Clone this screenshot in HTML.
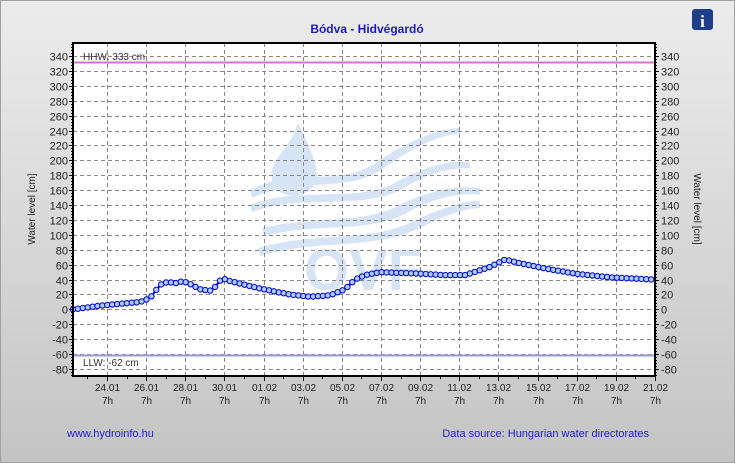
<!DOCTYPE html>
<html><head><meta charset="utf-8"><style>
html,body{margin:0;padding:0;}
body{width:735px;height:463px;overflow:hidden;font-family:"Liberation Sans",Arial,sans-serif;}
</style></head><body>
<svg id="s" width="735" height="463" xmlns="http://www.w3.org/2000/svg" font-family="Liberation Sans, Arial, sans-serif">
<defs><linearGradient id="bg" x1="0" y1="0" x2="0" y2="1"><stop offset="0" stop-color="#ececec"/><stop offset="1" stop-color="#c4c4c4"/></linearGradient></defs>
<rect x="0.5" y="0.5" width="734" height="462" fill="url(#bg)" stroke="#a0a0a0"/>
<rect x="73" y="43" width="582" height="333" fill="#fff"/>
<g id="wm" fill="#d6e4f5" stroke="none">
<path d="M298 123 C290 150 268 160 272 180 C276 198 300 200 312 188 C322 176 316 160 298 123Z"/>
<path d="M250 190 C300 165 340 190 380 160 C410 140 440 128 460 128 L460 134 C440 134 412 148 384 168 C345 195 300 175 252 198Z"/>
<path d="M250 205 C300 185 360 205 400 180 C430 165 450 160 470 162 L470 168 C450 168 430 172 404 188 C362 212 300 193 252 212Z"/>
<path d="M262 228 C320 215 360 225 400 205 C430 190 460 185 480 188 L480 195 C460 192 432 198 405 214 C364 234 320 222 264 236Z"/>
<path d="M258 248 C320 230 370 245 420 218 C450 205 470 200 480 201 L480 208 C470 208 452 212 424 226 C372 252 320 238 260 256Z"/>
<text x="304" y="290" font-size="58" font-weight="bold" fill="#d6e4f5">OVF</text>
</g>
<g id="grid" stroke="#888" stroke-dasharray="4,3" stroke-width="1"></g>
<line x1="73" y1="62.5" x2="655" y2="62.5" stroke="#cc77cc" stroke-width="2"/>
<line x1="73" y1="355.5" x2="655" y2="355.5" stroke="#9999dd" stroke-width="2"/>
<text x="83" y="60" font-size="10" fill="#333">HHW: 333 cm</text>
<text x="83" y="366" font-size="10" fill="#333">LLW: -62 cm</text>
<g id="data"></g>
<rect x="73" y="43" width="582" height="333" fill="none" stroke="#000" stroke-width="2"/>
<g id="ax" font-size="11" fill="#222"></g>
<text x="367" y="33" font-size="12" font-weight="bold" fill="#1a1acc" text-anchor="middle">Bódva - Hidvégardó</text>
<text transform="translate(35,209) rotate(-90)" font-size="10" fill="#222" text-anchor="middle">Water level [cm]</text>
<text transform="translate(694,209) rotate(90)" font-size="10" fill="#222" text-anchor="middle">Water level [cm]</text>
<text x="67" y="437" font-size="11" fill="#2222cc">www.hydroinfo.hu</text>
<text x="649" y="437" font-size="11" fill="#2222cc" text-anchor="end">Data source: Hungarian water directorates</text>
<rect x="692" y="9" width="21" height="21" rx="3" fill="#1d3f8a"/>
<text x="702.5" y="27" font-size="17" font-weight="bold" fill="#fff" text-anchor="middle" font-family="Liberation Serif, serif">i</text>
</svg>
<script>
var NS="http://www.w3.org/2000/svg";
function el(p,t,a,txt){var e=document.createElementNS(NS,t);for(var k in a)e.setAttribute(k,a[k]);if(txt!=null)e.textContent=txt;document.getElementById(p).appendChild(e);return e;}
function Y(v){return 309.4-v*0.7452;}
var g="grid",ax="ax";
for(var v=-80;v<=340;v+=20){var y=Math.round(Y(v))+0.5;
 el(g,"line",{x1:73,x2:655,y1:y,y2:y});
 el(ax,"text",{x:68,y:y+4,"text-anchor":"end"},String(v));
 el(ax,"text",{x:661,y:y+4},String(v));
 el(ax,"line",{x1:69,x2:73,y1:y,y2:y,stroke:"#000"});
 el(ax,"line",{x1:655,x2:659,y1:y,y2:y,stroke:"#000"});
}
for(var v=-88;v<=360;v+=4){var y=Math.round(Y(v))+0.5;if(y<43||y>376)continue;
 el(ax,"line",{x1:71,x2:73,y1:y,y2:y,stroke:"#000"});el(ax,"line",{x1:655,x2:657,y1:y,y2:y,stroke:"#000"});}
var labs=["24.01","26.01","28.01","30.01","01.02","03.02","05.02","07.02","09.02","11.02","13.02","15.02","17.02","19.02","21.02"];
var d=19.57;
for(var i=0;i<labs.length;i++){var x=Math.round(107+i*2*d)+0.5;
 if(x<654)el(g,"line",{x1:x,x2:x,y1:43,y2:376});
 el(ax,"line",{x1:x,x2:x,y1:376,y2:381,stroke:"#000"});
 el(ax,"text",{x:x,y:391,"text-anchor":"middle","font-size":10},labs[i]);
 el(ax,"text",{x:x,y:404,"text-anchor":"middle","font-size":10},"7h");}
for(var x0=107-d;x0<655;x0+=d){if(x0<73)continue;var x=Math.round(x0)+0.5;el(ax,"line",{x1:x,x2:x,y1:376,y2:379,stroke:"#000"});}
var k=[[73,0],[100,5],[140,10],[150,15],[160,33],[168,37],[175,35],[183,38],[192,33],[200,27],[210,25],[215,30],[222,42],[230,38],[260,28],[290,20],[310,17],[330,19],[345,27],[355,40],[365,46],[380,50],[420,48],[445,46],[465,46],[490,57],[505,67],[520,62],[545,55],[575,48],[610,43],[655,40]];
function val(x){for(var i=1;i<k.length;i++)if(x<=k[i][0]){var a=k[i-1],b=k[i];return a[1]+(b[1]-a[1])*(x-a[0])/(b[0]-a[0]);}return 40;}
var pts=[];for(var x=73;x<=655.1;x+=4.9)pts.push([x,Y(val(x))]);
el("data","polyline",{points:pts.map(function(p){return p[0].toFixed(1)+","+p[1].toFixed(1)}).join(" "),fill:"none",stroke:"#0000cc","stroke-width":2});
pts.forEach(function(p){el("data","circle",{cx:p[0].toFixed(1),cy:p[1].toFixed(1),r:2.7,fill:"#aaccff",stroke:"#0000cc","stroke-width":1});});
</script>
</body></html>
